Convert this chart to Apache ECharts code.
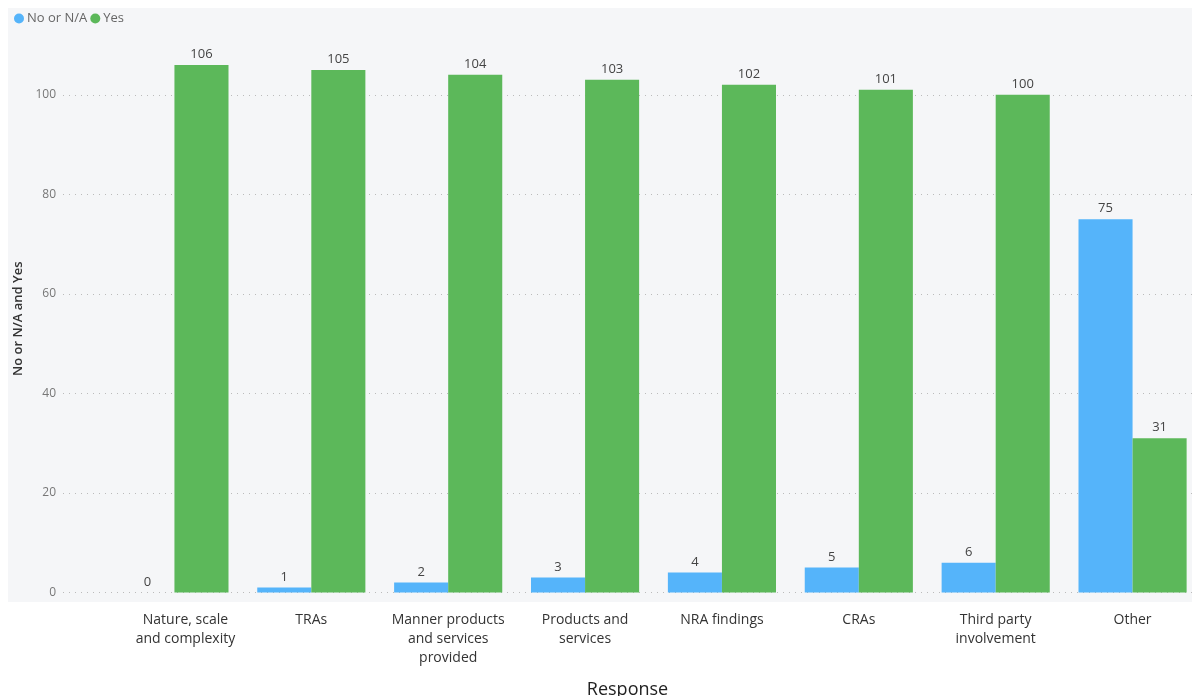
<!DOCTYPE html>
<html>
<head>
<meta charset="utf-8">
<script src="https://cdn.jsdelivr.net/npm/echarts@6/dist/echarts.min.js"></script>
<style>
html,body{margin:0;padding:0;background:#fff;}
#c{width:1192px;height:696px;}
</style>
</head>
<body>
<div id="c"></div>
<script>
const categories = ["Nature, scale\nand complexity", "TRAs", "Manner products\nand services\nprovided", "Products and\nservices", "NRA findings", "CRAs", "Third party\ninvolvement", "Other"];
const noValues = [0, 1, 2, 3, 4, 5, 6, 75];
const yesValues = [106, 105, 104, 103, 102, 101, 100, 31];
const seriesNames = ["No or N/A", "Yes"];
const yTicks = [0, 20, 40, 60, 80, 100];

const FONT = '"Open Sans", "Noto Sans", sans-serif';
const chart = echarts.init(document.getElementById('c'));
const lbl = {show: true, position: 'top', distance: 4, color: '#444', fontSize: 13, fontFamily: FONT};
chart.setOption({
  animation: false,
  backgroundColor: '#fff',
  graphic: [{type: 'rect', z: -10, silent: true, shape: {x: 8, y: 8, width: 1184, height: 594}, style: {fill: '#f5f6f8'}}],
  legend: {
    data: seriesNames, left: 9, top: 7, icon: 'circle', itemWidth: 10, itemHeight: 10, itemGap: 3,
    textStyle: {color: '#666', fontSize: 13, fontFamily: FONT, padding: [0, 0, 0, -2]}
  },
  grid: [
    {left: 63, right: 0, top: 45, bottom: 103.5, outerBoundsMode: 'none', containLabel: false},
    {left: 106, width: 1095, top: 45, bottom: 103.5, outerBoundsMode: 'none', containLabel: false}
  ],
  xAxis: [
    {gridIndex: 0, type: 'category', data: [''], show: true, axisLine: {show: false}, axisTick: {show: false}, axisLabel: {show: false},
     name: 'Response', nameLocation: 'middle', nameGap: 88, nameTextStyle: {color: '#222', fontSize: 18, fontFamily: FONT}},
    {gridIndex: 1, type: 'category', data: categories, axisLine: {show: false}, axisTick: {show: false},
     axisLabel: {color: '#333', fontSize: 14, lineHeight: 19, margin: 18, interval: 0, fontFamily: FONT,
       formatter: (v, i) => i === 0 ? v.split('\n').map(s => '{f|' + s + '}').join('\n') : v,
       rich: {f: {color: '#333', fontSize: 14, lineHeight: 19, fontFamily: FONT, padding: [0, 0, 0, 22]}}}}
  ],
  yAxis: [
    {gridIndex: 0, type: 'value', min: 0, max: 110, interval: 20,
     name: 'No or N/A and Yes', nameLocation: 'middle', nameGap: 38, nameRotate: 90,
     nameTextStyle: {color: '#333', fontSize: 13, fontWeight: 600, fontFamily: FONT},
     axisLine: {show: false}, axisTick: {show: false},
     axisLabel: {color: '#777', fontSize: 12, margin: 7, fontFamily: FONT, showMaxLabel: false,
       formatter: v => yTicks.includes(v) ? String(v) : ''},
     splitLine: {show: true, lineStyle: {type: [1, 5], width: 1, color: ['#bbb','#bbb','#bbb','#bbb','#bbb','#bbb','rgba(0,0,0,0)']}}},
    {gridIndex: 1, type: 'value', min: 0, max: 110, show: false, splitLine: {show: false}}
  ],
  series: [
    {name: seriesNames[0], type: 'bar', xAxisIndex: 1, yAxisIndex: 1, data: noValues, barGap: '0%', barCategoryGap: '21%',
     itemStyle: {color: '#55b4fa'}, label: lbl},
    {name: seriesNames[1], type: 'bar', xAxisIndex: 1, yAxisIndex: 1, data: yesValues, barGap: '0%', barCategoryGap: '21%',
     itemStyle: {color: '#5cb85a'}, label: lbl}
  ]
});
</script>
</body>
</html>
